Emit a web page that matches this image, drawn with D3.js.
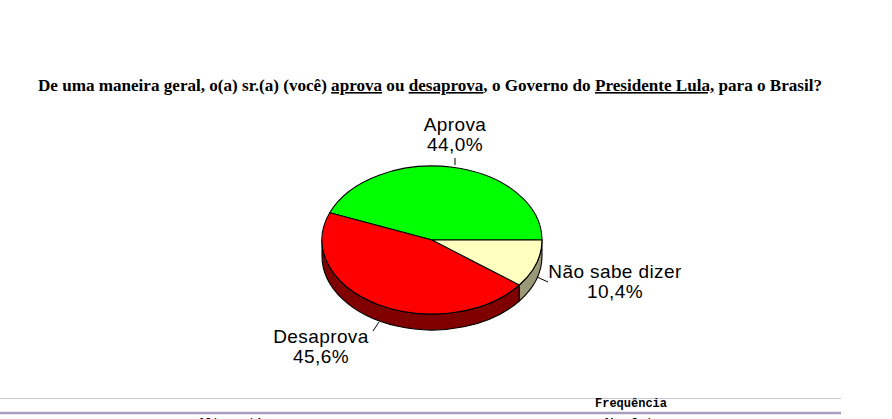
<!DOCTYPE html>
<html>
<head>
<meta charset="utf-8">
<script src="https://cdn.jsdelivr.net/npm/d3@7"></script>
<style>
  html, body { margin: 0; padding: 0; background: #fff; overflow: hidden; }
</style>
</head>
<body>
<script>
const width = 892;
const height = 419;

// data
const categories = ["Aprova", "Desaprova", "Não sabe dizer"];
const values = [44.0, 45.6, 10.4];
const valueLabels = ["44,0%", "45,6%", "10,4%"];

const topColors = ["#00ff00", "#ff0000", "#ffffc0"];
const sideColors = ["#008000", "#800000", "#999977"];

// pie geometry
const cx = 432, cy = 240, rx = 110, ry = 74, depth = 16;

// label layout (relative to pie centre)
const labelLayout = [
    { dx: 23, dy: -109, line: [[23, -82], [23, -75]] },
    { dx: -111, dy: 103, line: [[-59, 91], [-53, 82]] },
    { dx: 183, dy: 38, line: [[105, 37], [116, 42]] }
];

const svg = d3.select("body").append("svg")
    .attr("width", width)
    .attr("height", height);

// title
const title = svg.append("text")
    .attr("x", 38)
    .attr("y", 91)
    .attr("textLength", 784)
    .attr("lengthAdjust", "spacingAndGlyphs")
    .style("font-family", "'Liberation Serif', 'DejaVu Serif', serif")
    .style("font-weight", "bold")
    .style("font-size", "16px")
    .style("fill", "#000");

const titleParts = [
    ["De uma maneira geral, o(a) sr.(a) (você) ", false],
    ["aprova", true],
    [" ou ", false],
    ["desaprova", true],
    [", o Governo do ", false],
    ["Presidente Lula,", true],
    [" para o Brasil?", false]
];
titleParts.forEach(([t, u]) => {
    title.append("tspan")
        .style("text-decoration", u ? "underline" : "none")
        .text(t);
});

// pie angles: start at 3 o'clock, go counter-clockwise
const pie = d3.pie().sort(null)
    .startAngle(Math.PI / 2)
    .endAngle(Math.PI / 2 - 2 * Math.PI);
const arcs = pie(values);

const px = a => cx + rx * Math.sin(a);
const py = a => cy - ry * Math.cos(a);

const g = svg.append("g");

// side walls (front half only)
arcs.forEach((d, i) => {
    const hi = Math.max(d.startAngle, d.endAngle);
    const lo = Math.min(d.startAngle, d.endAngle);
    [[-1.5 * Math.PI, -0.5 * Math.PI], [0.5 * Math.PI, 1.5 * Math.PI]].forEach(([f0, f1]) => {
        const a0 = Math.max(lo, f0), a1 = Math.min(hi, f1);
        if (a1 - a0 <= 1e-6) return;
        const path = `M${px(a1)},${py(a1)}` +
            `A${rx},${ry} 0 0 0 ${px(a0)},${py(a0)}` +
            `L${px(a0)},${py(a0) + depth}` +
            `A${rx},${ry} 0 0 1 ${px(a1)},${py(a1) + depth}Z`;
        g.append("path")
            .attr("d", path)
            .attr("fill", sideColors[i])
            .attr("stroke", "#000")
            .attr("stroke-width", 1.1)
            .attr("stroke-linejoin", "round");
    });
});

// top faces
arcs.forEach((d, i) => {
    const a0 = d.startAngle, a1 = d.endAngle;
    const large = Math.abs(a1 - a0) > Math.PI ? 1 : 0;
    const path = `M${cx},${cy}L${px(a0)},${py(a0)}` +
        `A${rx},${ry} 0 ${large} 0 ${px(a1)},${py(a1)}Z`;
    g.append("path")
        .attr("d", path)
        .attr("fill", topColors[i])
        .attr("stroke", "#000")
        .attr("stroke-width", 1.1)
        .attr("stroke-linejoin", "round");
});

// labels and leader lines
categories.forEach((c, i) => {
    const L = labelLayout[i];
    svg.append("line")
        .attr("x1", cx + L.line[0][0]).attr("y1", cy + L.line[0][1])
        .attr("x2", cx + L.line[1][0]).attr("y2", cy + L.line[1][1])
        .style("stroke", "#000")
        .style("stroke-width", 1);
    const t = svg.append("text")
        .attr("text-anchor", "middle")
        .style("font-family", "'Liberation Sans', Arial, sans-serif")
        .style("font-size", "19px")
        .style("letter-spacing", "0.4px")
        .style("fill", "#000");
    t.append("tspan")
        .attr("x", cx + L.dx).attr("y", cy + L.dy)
        .text(c);
    t.append("tspan")
        .attr("x", cx + L.dx).attr("y", cy + L.dy + 20)
        .text(valueLabels[i]);
});

// table fragment at the bottom
svg.append("line")
    .attr("x1", 0).attr("x2", 841).attr("y1", 398.5).attr("y2", 398.5)
    .style("stroke", "#c8c6d2").style("stroke-width", 1);
svg.append("line")
    .attr("x1", 0).attr("x2", 841).attr("y1", 413).attr("y2", 413)
    .style("stroke", "#a89cc0").style("stroke-width", 2.5);

const mono = "'Liberation Mono', 'DejaVu Sans Mono', monospace";
svg.append("text")
    .attr("x", 595).attr("y", 407)
    .style("font-family", mono).style("font-weight", "bold").style("font-size", "12px")
    .text("Frequência");
svg.append("text")
    .attr("x", 198).attr("y", 427)
    .style("font-family", mono).style("font-weight", "bold").style("font-size", "12px")
    .text("Alternativa");
svg.append("text")
    .attr("x", 603).attr("y", 427)
    .style("font-family", mono).style("font-weight", "bold").style("font-size", "12px")
    .text("Absoluta");
</script>
</body>
</html>
